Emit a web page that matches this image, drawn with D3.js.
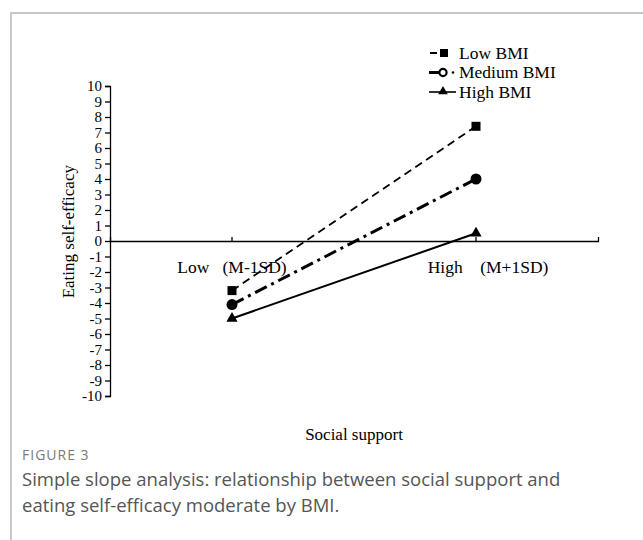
<!DOCTYPE html>
<html>
<head>
<meta charset="utf-8">
<script src="https://cdn.jsdelivr.net/npm/d3@7"></script>
<style>
  body { margin: 0; background: #fff; }
  svg text { white-space: pre; }
</style>
</head>
<body>
<div id="chart"></div>
<script>
'use strict';

// data
var categories = ["Low   (M-1SD)", "High    (M+1SD)"];
var seriesNames = ["Low BMI", "Medium BMI", "High BMI"];
var lowBMI = [-3.2, 7.4];
var mediumBMI = [-4.1, 4.0];
var highBMI = [-5.0, 0.5];
var yTicks = d3.range(-10, 11);

var seriesValues = [lowBMI, mediumBMI, highBMI];

var svgWidth = 643, svgHeight = 540;
var svg = d3.select("#chart").append("svg")
    .attr("width", svgWidth)
    .attr("height", svgHeight);

// figure frame (top and left rules)
svg.append("path")
    .attr("d", "M11," + svgHeight + "V13H" + svgWidth)
    .attr("fill", "none")
    .attr("stroke", "#c8c8c8")
    .attr("stroke-width", 2);

var serif = "'Liberation Serif', 'Times New Roman', serif";

var x = d3.scaleBand().domain(categories).range([110, 598]);
var y = d3.scaleLinear().domain([-10, 10]).range([396, 86]);

var g = svg.append("g");

// y axis
var yAxis = g.append("g")
    .attr("transform", "translate(" + x.range()[0] + ",0)")
    .call(d3.axisLeft(y).tickValues(yTicks).tickSize(5).tickSizeOuter(5).tickPadding(3)
      .tickFormat(function(d) { return String(d); }));
yAxis.selectAll("text")
    .attr("font-family", serif)
    .attr("font-size", 15)
    .attr("fill", "#000");
yAxis.selectAll("path, line").attr("stroke", "#000").attr("stroke-width", 1.3);

// x axis along zero
var xAxis = g.append("g")
    .attr("transform", "translate(0," + y(0) + ")")
    .call(d3.axisBottom(x).tickSize(-4).tickSizeOuter(-4).tickPadding(20));
xAxis.selectAll("text")
    .attr("font-family", serif)
    .attr("font-size", 17.5)
    .attr("fill", "#000")
    .attr("dx", function(d, i) { return i === 1 ? 12 : 0; });
xAxis.selectAll("path, line").attr("stroke", "#000").attr("stroke-width", 1.3);

// axis titles
svg.append("text")
    .attr("transform", "translate(74," + y(0.6) + ") rotate(-90)")
    .attr("text-anchor", "middle")
    .attr("font-family", serif)
    .attr("font-size", 17)
    .text("Eating self-efficacy");

svg.append("text")
    .attr("x", 354)
    .attr("y", 440)
    .attr("text-anchor", "middle")
    .attr("font-family", serif)
    .attr("font-size", 17)
    .text("Social support");

// series
var styles = [
  {dash: "8,5", width: 1.8, marker: "square"},
  {dash: "13,5,3,5", width: 3, marker: "circle"},
  {dash: null, width: 2, marker: "triangle"}
];

var cx = function(i) { return x(categories[i]) + x.bandwidth() / 2; };

var line = d3.line()
    .x(function(d, i) { return cx(i); })
    .y(function(d) { return y(d); });

function marker(sel, type, px, py) {
  if (type === "square") {
    sel.append("rect").attr("x", px - 4.5).attr("y", py - 4.5)
        .attr("width", 9).attr("height", 9).attr("fill", "#000");
  } else if (type === "circle") {
    sel.append("circle").attr("cx", px).attr("cy", py).attr("r", 5.5).attr("fill", "#000");
  } else {
    sel.append("path")
        .attr("d", d3.symbol().type(d3.symbolTriangle).size(55)())
        .attr("transform", "translate(" + px + "," + py + ")")
        .attr("fill", "#000");
  }
}

seriesValues.forEach(function(vals, s) {
  var st = styles[s];
  g.append("path")
      .datum(vals)
      .attr("d", line)
      .attr("fill", "none")
      .attr("stroke", "#000")
      .attr("stroke-width", st.width)
      .attr("stroke-dasharray", st.dash);
  vals.forEach(function(v, i) {
    marker(g, st.marker, cx(i), y(v));
  });
});

// legend
var legend = svg.append("g");
seriesNames.forEach(function(name, s) {
  var ly = 53 + s * 19.5;
  var row = legend.append("g");
  if (s === 0) {
    row.append("line").attr("x1", 430).attr("x2", 437).attr("y1", ly).attr("y2", ly)
        .attr("stroke", "#000").attr("stroke-width", 2);
    row.append("rect").attr("x", 440).attr("y", ly - 4).attr("width", 8).attr("height", 8);
  } else if (s === 1) {
    row.append("line").attr("x1", 429).attr("x2", 439).attr("y1", ly).attr("y2", ly)
        .attr("stroke", "#000").attr("stroke-width", 3);
    row.append("circle").attr("cx", 443).attr("cy", ly).attr("r", 3.6)
        .attr("fill", "#fff").attr("stroke", "#000").attr("stroke-width", 2.2);
    row.append("circle").attr("cx", 453).attr("cy", ly).attr("r", 1.3);
  } else {
    row.append("line").attr("x1", 429).attr("x2", 456).attr("y1", ly).attr("y2", ly)
        .attr("stroke", "#000").attr("stroke-width", 1.6);
    row.append("path")
        .attr("d", d3.symbol().type(d3.symbolTriangle).size(40)())
        .attr("transform", "translate(443," + (ly - 0.5) + ")");
  }
  row.append("text")
      .attr("x", 459)
      .attr("y", ly)
      .attr("dy", "0.33em")
      .attr("font-family", serif)
      .attr("font-size", 17.5)
      .text(name);
});

// caption
svg.append("text")
    .attr("x", 22)
    .attr("y", 460)
    .attr("font-family", "'Open Sans', sans-serif")
    .attr("font-size", 14)
    .attr("letter-spacing", 1)
    .attr("fill", "#7a7a7a")
    .text("FIGURE 3");

var captionLines = [
  "Simple slope analysis: relationship between social support and",
  "eating self-efficacy moderate by BMI."
];
svg.selectAll(".caption")
    .data(captionLines)
    .enter().append("text")
    .attr("class", "caption")
    .attr("x", 22)
    .attr("y", function(d, i) { return 486 + i * 26; })
    .attr("font-family", "'Open Sans', sans-serif")
    .attr("font-size", 18.5)
    .attr("fill", "#555")
    .text(function(d) { return d; });
</script>
</body>
</html>
